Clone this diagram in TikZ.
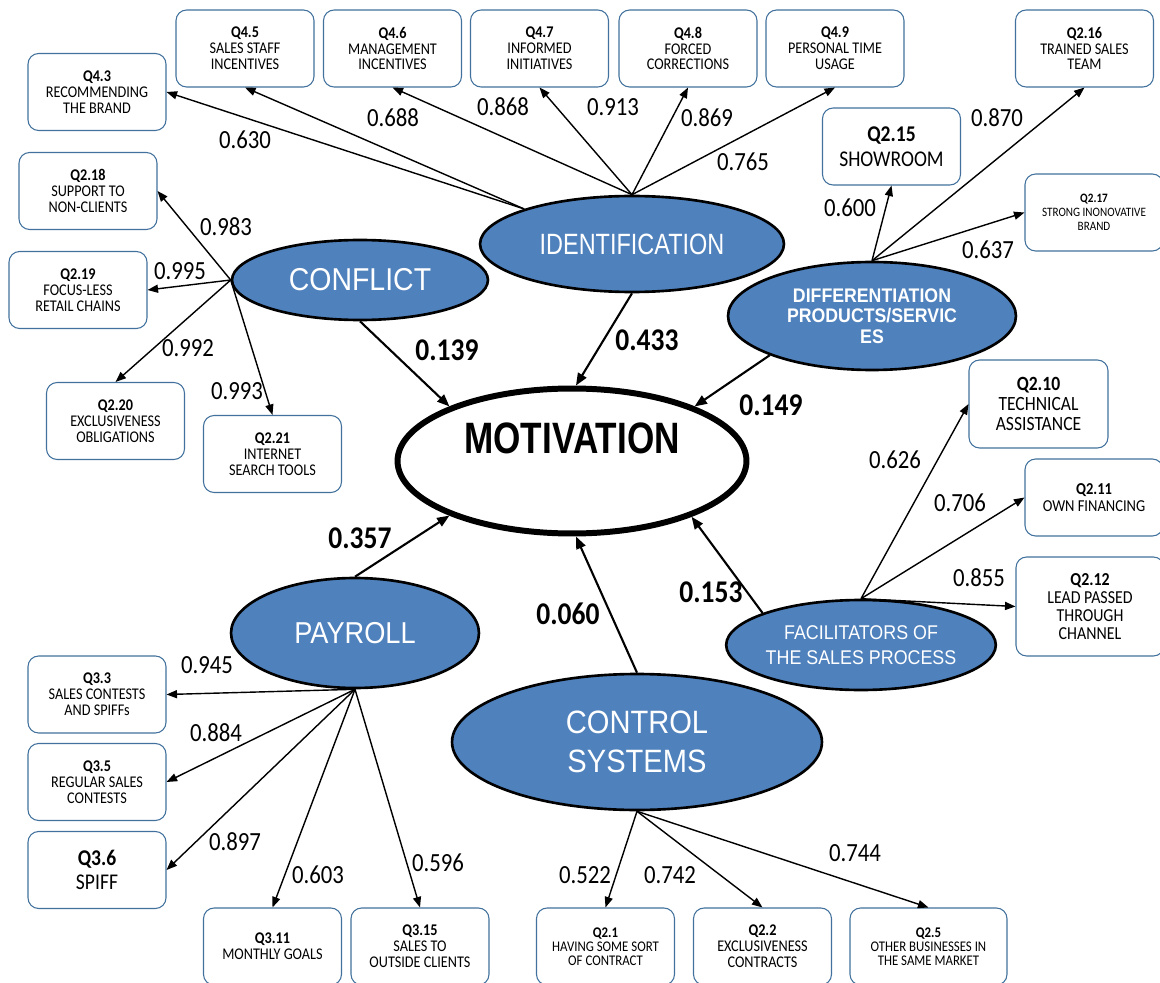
\documentclass[tikz,border=0pt]{standalone}
\usepackage{fontspec}
\usetikzlibrary{arrows.meta,shapes.geometric}

\newfontfamily\boxfont[FakeStretch=0.87]{Carlito}
\newfontfamily\ellfont[FakeStretch=0.9]{Liberation Sans}
\newfontfamily\ellnarrow[FakeStretch=0.8]{Liberation Sans}

\definecolor{latentblue}{HTML}{4F81BD}
\definecolor{itemblue}{HTML}{41719C}

\tikzstyle{item}=[draw=itemblue,line width=0.6pt,rounded corners=6pt,fill=white,minimum width=2.76cm,minimum height=1.54cm,inner sep=1pt,align=center,font=\boxfont\fontsize{9.3}{9}\selectfont]
\tikzstyle{small item}=[item,font=\boxfont\fontsize{8.4}{8}\selectfont]
\tikzstyle{big item}=[item,font=\boxfont\fontsize{12.8}{14}\selectfont]
\tikzstyle{construct}=[ellipse,draw=black,line width=1.5pt,fill=latentblue,text=white,inner sep=0pt,align=center,font=\ellfont\fontsize{18}{22}\selectfont]
\tikzstyle{outcome}=[ellipse,draw=black,line width=3.4pt,fill=white,inner sep=0pt,minimum width=6.98cm,minimum height=2.9cm]
\tikzstyle{loading}=[inner sep=0pt,font=\boxfont\fontsize{14.9}{16}\selectfont]
\tikzstyle{path coef}=[inner sep=0pt,font=\boxfont\bfseries\fontsize{18}{20}\selectfont]
\tikzstyle{loading edge}=[draw,line width=0.8pt,-{Triangle[length=6pt,width=4.6pt]}]
\tikzstyle{path edge}=[draw,line width=1.2pt,-{Triangle[length=7pt,width=5.5pt]}]

\begin{document}
\begin{tikzpicture}[x=0.02cm,y=-0.02cm]
	\useasboundingbox (0,0) rectangle (1160,983);
	% latent variables
	\node[outcome] (motivation) at (572,461) {};
	\node[font=\ellnarrow\bfseries\fontsize{25}{30}\selectfont] (motivationtext) at (572,438) {MOTIVATION};
	\node[construct,minimum width=6.08cm,minimum height=1.92cm,font=\ellnarrow\fontsize{16.7}{20}\selectfont] (identification) at (632,244) {IDENTIFICATION};
	\node[construct,minimum width=5.12cm,minimum height=1.6cm] (conflict) at (360,280) {CONFLICT};
	\node[construct,minimum width=5.76cm,minimum height=2.16cm,font=\ellfont\bfseries\fontsize{11.2}{11.6}\selectfont] (differentiation) at (872,316) {DIFFERENTIATION\\PRODUCTS/SERVIC\\ES};
	\node[construct,minimum width=5.32cm,minimum height=1.8cm,font=\ellfont\fontsize{11.3}{14.2}\selectfont] (facilitators) at (861,645) {FACILITATORS OF\\THE SALES PROCESS};
	\node[construct,minimum width=4.96cm,minimum height=2.2cm,font=\ellfont\fontsize{17.2}{20}\selectfont] (payroll) at (355,633) {PAYROLL};
	\node[construct,minimum width=7.4cm,minimum height=2.72cm,font=\ellfont\fontsize{18.4}{22}\selectfont] (control) at (637,742) {CONTROL\\SYSTEMS};

	% observed items
	\node[item] (q4-3) at (97,92) {\textbf{Q4.3}\\RECOMMENDING\\THE BRAND};
	\node[item] (q4-5) at (245,48.5) {\textbf{Q4.5}\\SALES STAFF\\INCENTIVES};
	\node[item] (q4-6) at (392.5,48.5) {\textbf{Q4.6}\\MANAGEMENT\\INCENTIVES};
	\node[item] (q4-7) at (539.5,48.5) {\textbf{Q4.7}\\INFORMED\\INITIATIVES};
	\node[item] (q4-8) at (688,48.5) {\textbf{Q4.8}\\FORCED\\CORRECTIONS};
	\node[item] (q4-9) at (835,48.5) {\textbf{Q4.9}\\PERSONAL TIME\\USAGE};
	\node[item] (q2-16) at (1084.5,48.5) {\textbf{Q2.16}\\TRAINED SALES\\TEAM};
	\node[big item] (q2-15) at (891.5,146.5) {\textbf{Q2.15}\\SHOWROOM};
	\node[item,font=\boxfont\fontsize{7.3}{8}\selectfont] (q2-17) at (1094,212.5) {\textbf{Q2.17}\\STRONG INONOVATIVE\\BRAND};
	\node[item] (q2-18) at (88,191) {\textbf{Q2.18}\\SUPPORT TO\\NON-CLIENTS};
	\node[item] (q2-19) at (78,290) {\textbf{Q2.19}\\FOCUS-LESS\\RETAIL CHAINS};
	\node[item] (q2-20) at (115.5,421) {\textbf{Q2.20}\\EXCLUSIVENESS\\OBLIGATIONS};
	\node[item] (q2-21) at (272.5,454) {\textbf{Q2.21}\\INTERNET\\SEARCH TOOLS};
	\node[item,minimum width=2.78cm,minimum height=1.76cm,font=\boxfont\fontsize{11.5}{11.3}\selectfont] (q2-10) at (1038.5,404) {\textbf{Q2.10}\\TECHNICAL\\ASSISTANCE};
	\node[item,font=\boxfont\fontsize{9.5}{9.6}\selectfont] (q2-11) at (1094,497.5) {\textbf{Q2.11}\\OWN FINANCING};
	\node[item,minimum width=2.96cm,minimum height=1.98cm,font=\boxfont\fontsize{10.4}{10.2}\selectfont] (q2-12) at (1090,606.5) {\textbf{Q2.12}\\LEAD PASSED\\THROUGH\\CHANNEL};
	\node[item] (q3-3) at (97,694.5) {\textbf{Q3.3}\\SALES CONTESTS\\AND SPIFFs};
	\node[item] (q3-5) at (97,782) {\textbf{Q3.5}\\REGULAR SALES\\CONTESTS};
	\node[big item] (q3-6) at (97,870) {\textbf{Q3.6}\\SPIFF};
	\node[item] (q3-11) at (272.5,946.5) {\textbf{Q3.11}\\MONTHLY GOALS};
	\node[item] (q3-15) at (420,946.5) {\textbf{Q3.15}\\SALES TO\\OUTSIDE CLIENTS};
	\node[small item] (q2-1) at (605.5,946.5) {\textbf{Q2.1}\\HAVING SOME SORT\\OF CONTRACT};
	\node[item] (q2-2) at (762.5,946.5) {\textbf{Q2.2}\\EXCLUSIVENESS\\CONTRACTS};
	\node[small item,minimum width=3.14cm] (q2-5) at (928.5,946.5) {\textbf{Q2.5}\\OTHER BUSINESSES IN\\THE SAME MARKET};

	% measurement arrows
	\foreach \source/\dest in {identification.162/q4-3.east, identification.162/q4-5.south, identification.north/q4-6.south,
		identification.north/q4-7.south, identification.north/q4-8.south, identification.north/q4-9.south,
		differentiation.north/q2-15.south, differentiation.north/q2-16.south, differentiation.north/q2-17.west,
		conflict.west/q2-18.east, conflict.west/q2-19.east, conflict.west/q2-20.north, conflict.west/q2-21.north,
		facilitators.north/q2-10.west, facilitators.north/q2-11.west, facilitators.north/q2-12.west,
		payroll.south/q3-3.east, payroll.south/q3-5.east, payroll.south/q3-6.east, payroll.south/q3-11.north, payroll.south/q3-15.north,
		control.south/q2-1.north, control.south/q2-2.north, control.south/q2-5.north}
		\path[loading edge] (\source) -- (\dest);

	% structural paths into motivation
	\foreach \source/\dest in {conflict.south/motivation.156, identification.south/motivation.87, differentiation.201/motivation.24,
		payroll.north/motivation.204, control.north/motivation.273, facilitators.162/motivation.335}
		\path[path edge] (\source) -- (\dest);

	% loadings
	\foreach \val/\x/\y [count=\i] in {0.630/245/140, 0.688/393/118, 0.868/503/107, 0.913/613/107, 0.869/707/118, 0.765/743/162,
		0.600/850/208, 0.870/997/118, 0.637/988/250, 0.983/226/227, 0.995/180/271, 0.992/188/348, 0.993/237/391,
		0.626/895/460, 0.706/960/503, 0.855/979/578, 0.945/207/665, 0.884/216/733, 0.897/235/842, 0.603/318/875,
		0.596/438/863, 0.522/585/875, 0.742/670/875, 0.744/855/853}
		\node[loading] (w\i) at (\x,\y) {\val};
	\foreach \val/\x/\y [count=\i] in {0.139/447/350, 0.433/647/340, 0.149/771/405, 0.357/360/538, 0.060/568/614, 0.153/711/592}
		\node[path coef] (b\i) at (\x,\y) {\val};
\end{tikzpicture}
\end{document}
